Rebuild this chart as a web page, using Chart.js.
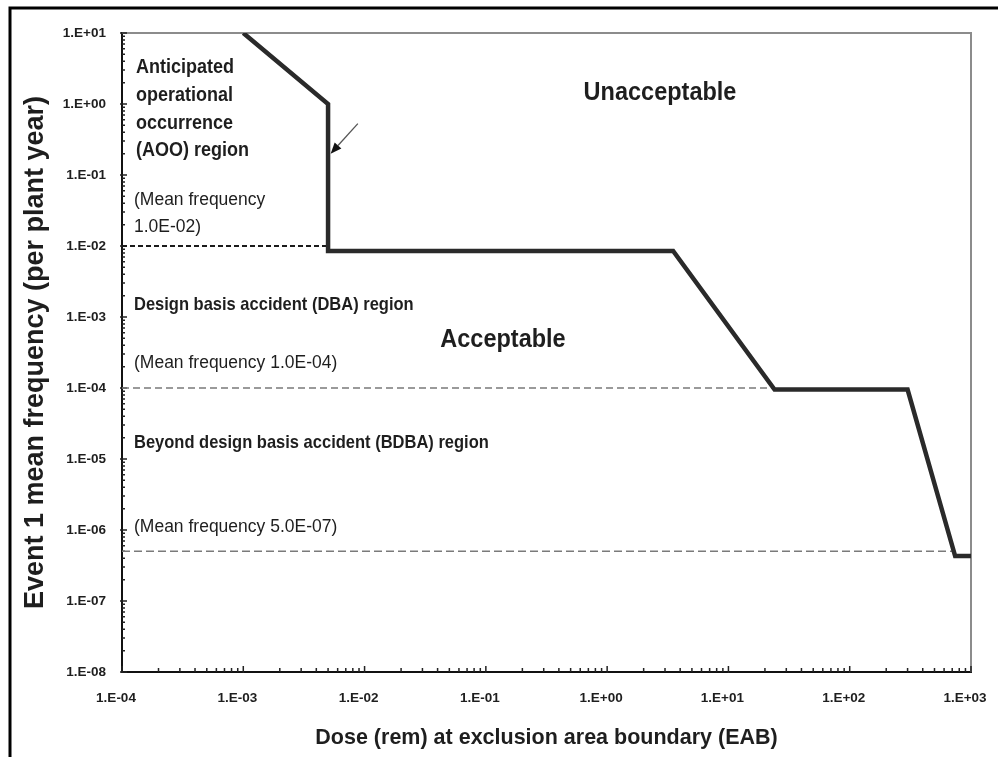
<!DOCTYPE html>
<html>
<head>
<meta charset="utf-8">
<script src="https://cdn.jsdelivr.net/npm/chart.js@4.4.1/dist/chart.umd.min.js"></script>
<style>
  html, body { margin: 0; padding: 0; background: #fff; }
  canvas { display: block; }
</style>
</head>
<body>
<canvas id="chart" width="998" height="757"></canvas>
<script>
// Frequency–consequence limit curve: dose at the EAB (rem) against event frequency (per plant year)
const limitDose = [1e-3, 5e-3, 5e-3, 3.5, 24, 300, 740, 1000];
const limitFreq = [10, 1, 8.5e-3, 8.5e-3, 9.5e-5, 9.5e-5, 4.3e-7, 4.3e-7];

// Mean-frequency boundaries between the regions, and the dose where each dashed line stops
const boundaryFreq = [1.0e-2, 1.0e-4, 5.0e-7];
const boundaryEndDose = [5e-3, 24, 740];

// Axis ticks (decades)
const xTickValues = [1e-4, 1e-3, 1e-2, 1e-1, 1, 10, 100, 1000];
const xTickLabels = ['1.E-04', '1.E-03', '1.E-02', '1.E-01', '1.E+00', '1.E+01', '1.E+02', '1.E+03'];
const yTickValues = [1e-8, 1e-7, 1e-6, 1e-5, 1e-4, 1e-3, 1e-2, 1e-1, 1, 10];
const yTickLabels = ['1.E-08', '1.E-07', '1.E-06', '1.E-05', '1.E-04', '1.E-03', '1.E-02', '1.E-01', '1.E+00', '1.E+01'];

// Pointer arrow aimed at the vertical AOO step: tail, then head (dose, frequency)
const arrowDose = [8.8e-3, 5.25e-3];
const arrowFreq = [0.53, 0.2];

const TEXT = '#1e1e1e';
const FONT = '"Liberation Sans", Arial, Helvetica, sans-serif';

// Region labels and notes written inside the plot
const notes = [
  { text: 'Anticipated',          x: 136, y: 68,  size: 18, bold: true },
  { text: 'operational',          x: 136, y: 96,  size: 18, bold: true },
  { text: 'occurrence',           x: 136, y: 124, size: 18, bold: true },
  { text: '(AOO) region',         x: 136, y: 151, size: 18, bold: true },
  { text: '(Mean frequency',      x: 134, y: 200, size: 17.5, bold: false },
  { text: '1.0E-02)',             x: 134, y: 227, size: 17.5, bold: false },
  { text: 'Unacceptable',         x: 660, y: 93,  size: 23.5, bold: true, center: true },
  { text: 'Design basis accident (DBA) region', x: 134, y: 305, size: 16.5, bold: true },
  { text: 'Acceptable',           x: 503, y: 340, size: 23.5, bold: true, center: true },
  { text: '(Mean frequency 1.0E-04)', x: 134, y: 363, size: 17.5, bold: false },
  { text: 'Beyond design basis accident (BDBA) region', x: 134, y: 443, size: 16.5, bold: true },
  { text: '(Mean frequency 5.0E-07)', x: 134, y: 527, size: 17.5, bold: false }
];

function decadeMinors(lo, hi) {
  const out = [];
  for (let e = lo; e < hi; e++) {
    for (let m = 2; m <= 9; m++) out.push(m * Math.pow(10, e));
  }
  return out;
}

const decor = {
  id: 'decor',
  beforeDatasetsDraw(chart) {
    const { ctx, chartArea: a, scales: { x, y } } = chart;
    ctx.save();
    // top and right edges of the plot in grey
    ctx.strokeStyle = '#8c8c8c';
    ctx.lineWidth = 2;
    ctx.beginPath();
    ctx.moveTo(a.left, a.top);
    ctx.lineTo(a.right, a.top);
    ctx.lineTo(a.right, a.bottom);
    ctx.stroke();

    // inward tick marks on the bottom and left axes
    ctx.strokeStyle = '#222';
    ctx.lineWidth = 1.5;
    ctx.beginPath();
    decadeMinors(-4, 3).forEach(v => {
      const px = x.getPixelForValue(v);
      ctx.moveTo(px, a.bottom);
      ctx.lineTo(px, a.bottom - 4);
    });
    xTickValues.forEach(v => {
      const px = x.getPixelForValue(v);
      ctx.moveTo(px, a.bottom + 1);
      ctx.lineTo(px, a.bottom - 6);
    });
    decadeMinors(-8, 1).forEach(v => {
      const py = y.getPixelForValue(v);
      ctx.moveTo(a.left, py);
      ctx.lineTo(a.left + 3, py);
    });
    yTickValues.forEach(v => {
      const py = y.getPixelForValue(v);
      ctx.moveTo(a.left - 2, py);
      ctx.lineTo(a.left + 5, py);
    });
    ctx.stroke();
    ctx.restore();
  },
  afterDraw(chart) {
    const { ctx, scales: { x, y } } = chart;
    ctx.save();

    // pointer arrow
    const x0 = x.getPixelForValue(arrowDose[0]), y0 = y.getPixelForValue(arrowFreq[0]);
    const x1 = x.getPixelForValue(arrowDose[1]), y1 = y.getPixelForValue(arrowFreq[1]);
    const ang = Math.atan2(y1 - y0, x1 - x0);
    const head = 11, half = 4.5;
    const bx = x1 - head * Math.cos(ang), by = y1 - head * Math.sin(ang);
    ctx.strokeStyle = '#555';
    ctx.lineWidth = 1.3;
    ctx.beginPath();
    ctx.moveTo(x0, y0);
    ctx.lineTo(bx, by);
    ctx.stroke();
    ctx.fillStyle = '#111';
    ctx.beginPath();
    ctx.moveTo(x1, y1);
    ctx.lineTo(bx - half * Math.sin(ang), by + half * Math.cos(ang));
    ctx.lineTo(bx + half * Math.sin(ang), by - half * Math.cos(ang));
    ctx.closePath();
    ctx.fill();

    // text inside the plot (slightly tall lettering)
    ctx.fillStyle = TEXT;
    ctx.textBaseline = 'middle';
    notes.forEach(n => {
      ctx.save();
      ctx.translate(n.x, n.y);
      ctx.scale(1, 1.08);
      ctx.font = (n.bold ? 'bold ' : '') + n.size + 'px ' + FONT;
      ctx.textAlign = n.center ? 'center' : 'left';
      ctx.fillText(n.text, 0, 0);
      ctx.restore();
    });

    // outer frame (left and top)
    ctx.strokeStyle = '#000';
    ctx.lineWidth = 3;
    ctx.beginPath();
    ctx.moveTo(10, 757);
    ctx.lineTo(10, 8);
    ctx.lineTo(998, 8);
    ctx.stroke();
    ctx.restore();
  }
};

const boundaryStyles = [
  { color: '#1a1a1a', width: 2,   dash: [5, 3] },
  { color: '#7a7a7a', width: 1.5, dash: [7, 4] },
  { color: '#7a7a7a', width: 1.5, dash: [8, 4] }
];

const datasets = [{
  data: limitDose.map((d, i) => ({ x: d, y: limitFreq[i] })),
  borderColor: '#2a2a2a',
  borderWidth: 4.5,
  pointRadius: 0,
  showLine: true,
  tension: 0,
  borderJoinStyle: 'miter',
  borderCapStyle: 'butt'
}];
boundaryFreq.forEach((f, i) => {
  datasets.push({
    data: [{ x: xTickValues[0], y: f }, { x: boundaryEndDose[i], y: f }],
    borderColor: boundaryStyles[i].color,
    borderWidth: boundaryStyles[i].width,
    borderDash: boundaryStyles[i].dash,
    pointRadius: 0,
    showLine: true
  });
});

new Chart(document.getElementById('chart'), {
  type: 'scatter',
  data: { datasets },
  plugins: [decor],
  options: {
    responsive: false,
    animation: false,
    devicePixelRatio: 1,
    layout: { padding: { left: 0, top: 33, right: 27, bottom: 0 } },
    plugins: { legend: { display: false }, tooltip: { enabled: false } },
    scales: {
      x: {
        type: 'logarithmic',
        min: 1e-4,
        max: 1e3,
        afterFit: s => { s.height = 85; s.paddingLeft = 0; s.paddingRight = 0; },
        afterBuildTicks: s => { s.ticks = xTickValues.map(v => ({ value: v })); },
        grid: { display: false, drawTicks: false },
        border: { display: true, color: '#111', width: 2 },
        ticks: {
          autoSkip: false,
          maxRotation: 0,
          padding: 18,
          labelOffset: -6,
          color: TEXT,
          font: { family: FONT, size: 13.5, weight: 'bold' },
          callback: (v) => { const i = xTickValues.indexOf(v); return i >= 0 ? xTickLabels[i] : ''; }
        },
        title: {
          display: true,
          text: 'Dose (rem) at exclusion area boundary (EAB)',
          color: TEXT,
          font: { family: FONT, size: 21.5, weight: 'bold' },
          padding: { top: 0, bottom: 6 }
        }
      },
      y: {
        type: 'logarithmic',
        min: 1e-8,
        max: 10,
        afterFit: s => { s.width = 122; s.paddingTop = 0; s.paddingBottom = 0; },
        afterBuildTicks: s => { s.ticks = yTickValues.map(v => ({ value: v })); },
        grid: { display: false, drawTicks: false },
        border: { display: true, color: '#111', width: 2 },
        ticks: {
          autoSkip: false,
          padding: 16,
          color: TEXT,
          font: { family: FONT, size: 13.5, weight: 'bold' },
          callback: (v) => { const i = yTickValues.indexOf(v); return i >= 0 ? yTickLabels[i] : ''; }
        },
        title: {
          display: true,
          text: 'Event 1 mean frequency (per plant year)',
          color: TEXT,
          font: { family: FONT, size: 27, weight: 'bold' },
          padding: { top: 19, bottom: 0 }
        }
      }
    }
  }
});
</script>
</body>
</html>
